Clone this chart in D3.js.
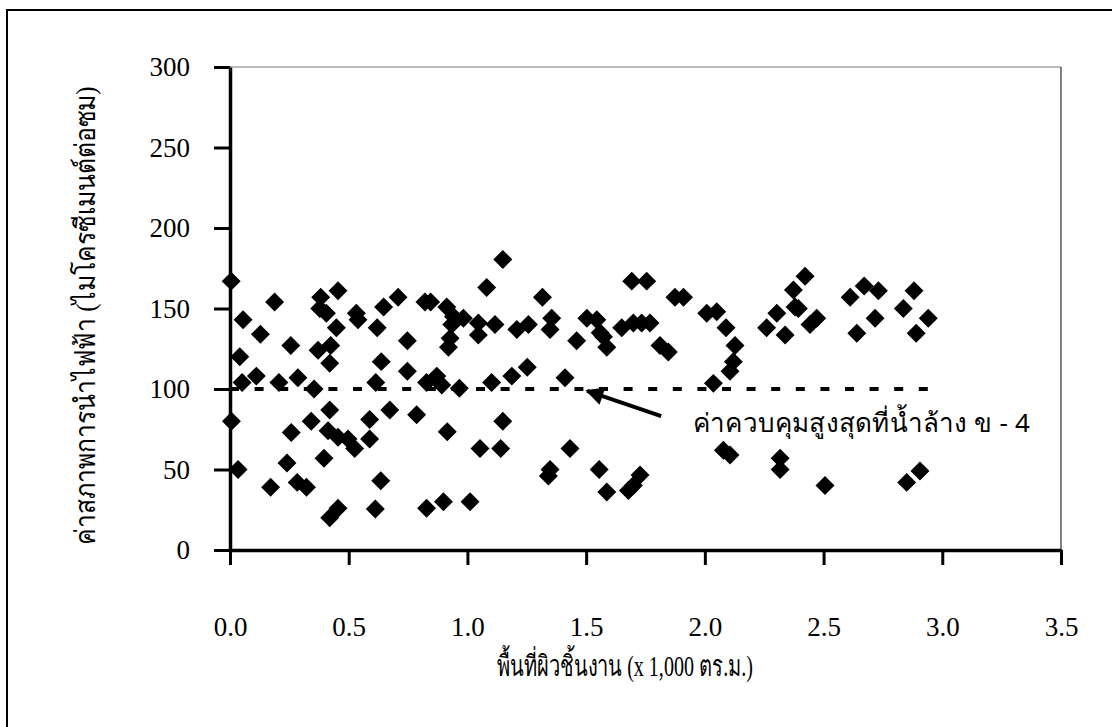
<!DOCTYPE html>
<html>
<head>
<meta charset="utf-8">
<script src="https://cdn.jsdelivr.net/npm/d3@7"></script>
<style>
  body { margin: 0; background: #fff; }
  svg { display: block; }
</style>
</head>
<body>
<div id="chart"></div>
<script>
/////////////////////Datos///////////////////////////////////////////////////////
var pointsX = [
  0.005,0.188,0.382,0.455,0.378,0.406,0.532,0.539,0.647,0.708,
  0.055,0.448,0.620,0.128,0.747,0.256,0.371,0.424,0.420,0.637,0.041,0.747,
  0.051,0.111,0.206,0.286,0.354,0.614,
  0.006,0.420,0.673,0.786,0.342,0.258,0.588,0.413,0.455,0.497,0.525,0.588,0.396,
  0.034,0.240,0.171,0.283,0.322,0.635,0.455,0.420,0.612,
  1.149,1.081,0.821,0.845,1.316,0.913,0.983,0.941,0.934,1.046,1.116,1.208,1.257,1.355,1.348,1.503,1.545,1.559,1.460,0.927,0.920,1.046,
  0.828,0.871,0.892,0.966,1.102,1.187,1.252,1.411,
  0.915,1.149,1.053,1.140,1.432,1.348,1.341,1.555,1.587,0.828,0.899,1.011,
  1.692,1.755,1.874,1.910,2.008,2.050,2.089,2.127,2.120,2.106,2.036,
  1.650,1.699,1.734,1.769,1.573,1.587,1.811,1.846,
  2.260,2.303,2.338,2.373,2.380,
  2.106,2.078,2.317,2.317,1.678,1.699,1.727,
  2.422,2.394,2.443,2.471,2.612,2.671,2.731,2.717,2.640,2.881,2.836,2.941,2.890,2.506,2.850,2.906
];
var pointsY = [
  167,154,157,161,150,147,147,143,151,157,
  143,138,138,134,130,127,124,127,116,117,120,111,
  104,108,104,107,100,104,
  80,87,87,84,80,73,81,74,70,69,63,69,57,
  50,54,39,42,39,43,26,20,25.5,
  180.5,163,154,154,157,151,144,145,140,141,140,137,140,144,137,144,143,135,130,131.5,126,133.5,
  104,108,102.5,100.4,104,108,113.5,107,
  73.5,80,63,63,63,50,46,50,36,26,30,30,
  167,167,157,157,147,148,138,127,117,111,103.5,
  138,141,141,141,132.5,126,127,123,
  138,147,133.5,161.5,151,
  59,62,57,50,37,40,46.6,
  170,150,140,144,157,164,161,144,134.6,161,150,144,134.6,40,42,49
];
var xTicks = [0, 0.5, 1, 1.5, 2, 2.5, 3, 3.5];
var yTicks = [0, 50, 100, 150, 200, 250, 300];
var limitValue = 100;
var limitEnd = 2.95;
var arrowFrom = [1.816, 83.2];
var arrowTo = [1.504, 98.8];
var limitLabel = "ค่าควบคุมสูงสุดที่น้ำล้าง ข - 4";
var xTitle = "พื้นที่ผิวชิ้นงาน (x 1,000 ตร.ม.)";
var yTitle = "ค่าสภาพการนำไฟฟ้า (ไมโครซีเมนต์ต่อซม)";

var points = pointsX.map(function(d, i) { return { x: d, y: pointsY[i] }; });

////////////////////////////Tamaño/////////////////////////////////////////////////
var width = 1112,
    height = 727;
var plot = { left: 230, top: 67, right: 1061, bottom: 550 };

var x = d3.scaleLinear().domain([0, 3.5]).range([plot.left, plot.right]);
var y = d3.scaleLinear().domain([0, 300]).range([plot.bottom, plot.top]);

var svg = d3.select("#chart")
  .append("svg")
    .attr("width", width)
    .attr("height", height);

// marco exterior
svg.append("rect")
  .attr("x", 7).attr("y", 10)
  .attr("width", 1300).attr("height", 900)
  .attr("fill", "none")
  .attr("stroke", "#000")
  .attr("stroke-width", 2);

// borde superior y derecho del area
svg.append("line")
  .attr("x1", plot.left).attr("x2", plot.right)
  .attr("y1", plot.top).attr("y2", plot.top)
  .attr("stroke", "#777").attr("stroke-width", 1);
svg.append("line")
  .attr("x1", plot.right).attr("x2", plot.right)
  .attr("y1", plot.top).attr("y2", plot.bottom)
  .attr("stroke", "#000").attr("stroke-width", 1);

////////////////////////////////////Linea limite//////////////////////
svg.append("line")
  .attr("x1", x(0)).attr("x2", x(limitEnd))
  .attr("y1", y(limitValue)).attr("y2", y(limitValue))
  .attr("stroke", "#000")
  .attr("stroke-width", 4)
  .attr("stroke-dasharray", "9,15.6");

////////////////////////////////////Puntos//////////////////////
svg.append("g")
  .selectAll("path")
  .data(points)
  .enter()
    .append("path")
    .attr("d", d3.symbol().type(d3.symbolSquare).size(180))
    .attr("transform", function(d) { return "translate(" + x(d.x) + "," + y(d.y) + ") rotate(45)"; })
    .attr("fill", "#000");

//////////////////////////////////////Ejes//////////////////////
var xAxis = d3.axisBottom(x)
  .tickValues(xTicks)
  .tickFormat(d3.format(".1f"))
  .tickSizeInner(15)
  .tickSizeOuter(0)
  .tickPadding(52);

var yAxis = d3.axisLeft(y)
  .tickValues(yTicks)
  .tickFormat(d3.format("d"))
  .tickSizeInner(16)
  .tickSizeOuter(0)
  .tickPadding(24);

var gx = svg.append("g")
  .attr("transform", "translate(0," + plot.bottom + ")")
  .call(xAxis);
var gy = svg.append("g")
  .attr("transform", "translate(" + plot.left + ",0)")
  .call(yAxis);

[gx, gy].forEach(function(g) {
  g.select(".domain").attr("stroke-width", 3.5);
  g.selectAll(".tick line").attr("stroke-width", 3);
  g.selectAll(".tick text")
    .attr("font-family", "'Liberation Serif', 'Times New Roman', serif")
    .attr("font-size", "27px")
    .attr("fill", "#000");
});

////////////////////////////Flecha y texto//////////////////////
svg.append("defs").append("marker")
  .attr("id", "head")
  .attr("viewBox", "0 0 10 10")
  .attr("refX", 9).attr("refY", 5)
  .attr("markerWidth", 5).attr("markerHeight", 4.5)
  .attr("markerUnits", "strokeWidth")
  .attr("orient", "auto")
  .append("path")
    .attr("d", "M0,0 L10,5 L0,10 Z")
    .attr("fill", "#000");

svg.append("line")
  .attr("x1", x(arrowFrom[0])).attr("y1", y(arrowFrom[1]))
  .attr("x2", x(arrowTo[0])).attr("y2", y(arrowTo[1]))
  .attr("stroke", "#000")
  .attr("stroke-width", 4)
  .attr("marker-end", "url(#head)");

svg.append("text")
  .attr("x", x(1.95)).attr("y", y(73))
  .attr("font-family", "'Noto Sans', sans-serif")
  .attr("font-size", "26px")
  .attr("textLength", 337)
  .attr("fill", "#000")
  .text(limitLabel);

svg.append("text")
  .attr("x", 625).attr("y", 676)
  .attr("text-anchor", "middle")
  .attr("font-family", "'Liberation Serif', serif")
  .attr("font-size", "29px")
  .attr("textLength", 256)
  .attr("lengthAdjust", "spacingAndGlyphs")
  .attr("fill", "#000")
  .text(xTitle);

svg.append("text")
  .attr("transform", "translate(95," + ((plot.top + plot.bottom) / 2 + 7) + ") rotate(-90)")
  .attr("text-anchor", "middle")
  .attr("font-family", "'Liberation Serif', serif")
  .attr("font-size", "28px")
  .attr("textLength", 458)
  .attr("lengthAdjust", "spacingAndGlyphs")
  .attr("fill", "#000")
  .text(yTitle);
</script>
</body>
</html>
